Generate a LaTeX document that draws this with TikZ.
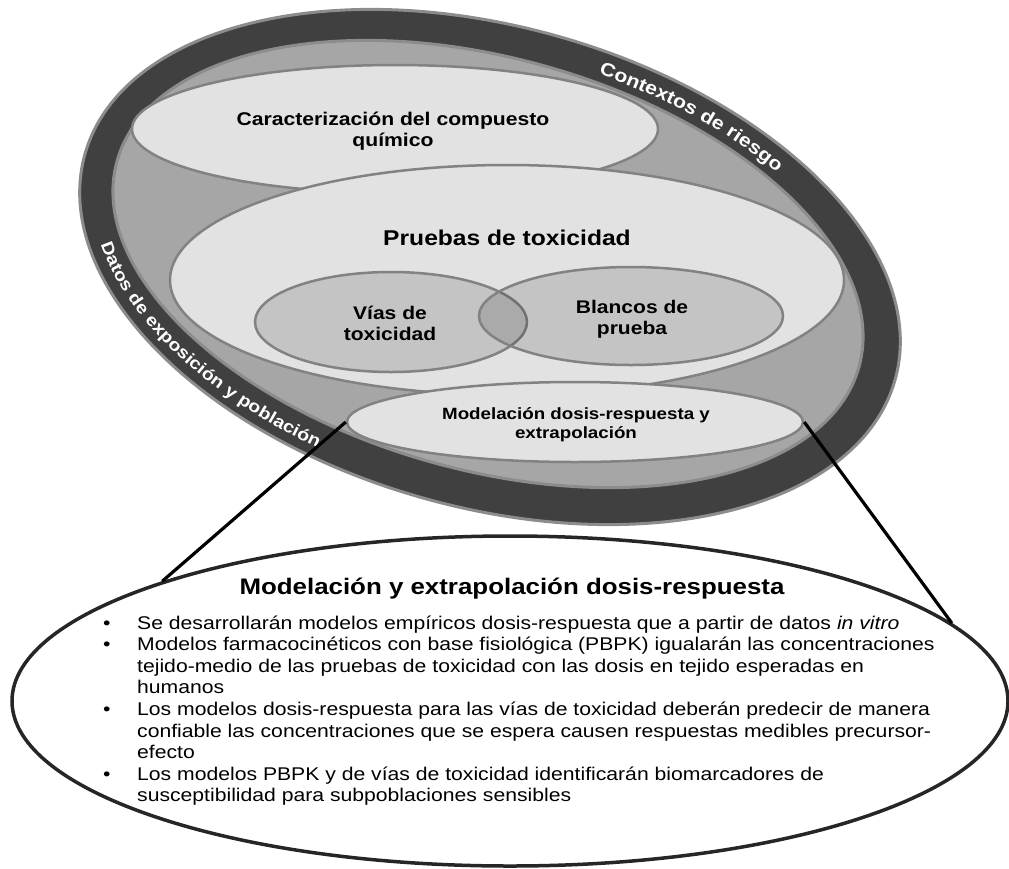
\documentclass[tikz,border=0pt]{standalone}
\usepackage{fontspec}
\setmainfont{Liberation Sans}[FakeStretch=1.15]
\usetikzlibrary{shapes.geometric,decorations.text,calc}
\definecolor{ringdark}{HTML}{404040}
\definecolor{ringedge}{HTML}{8C8C8C}
\definecolor{band}{HTML}{A6A6A6}
\definecolor{lightfill}{HTML}{E2E2E2}
\definecolor{edgegray}{HTML}{828282}
\begin{document}
\begin{tikzpicture}[x=1pt,y=-1pt,
  bubble/.style={ellipse, draw=edgegray, line width=2.5pt, fill=lightfill, inner sep=0pt},
  subbubble/.style={ellipse, draw=edgegray, line width=2.5pt, fill=black, fill opacity=0.13, text opacity=1, draw opacity=1, inner sep=0pt},
  lbl/.style={font=\bfseries\fontsize{18.4}{21.5}\selectfont, align=center, inner sep=0pt},
  ringtext/.style={decorate, decoration={text along path, text align=center, text color=white, text={#1}}},
  connector/.style={line width=3.2pt, black}]
\useasboundingbox (0,0) rectangle (1009,868);

% outer ring
\node[ellipse, draw=ringedge, line width=3pt, fill=ringdark, minimum width=841pt, minimum height=481pt, rotate=-15.5, inner sep=0pt] (outer) at (490,267) {};
\node[ellipse, draw=ringedge, line width=3pt, fill=band, minimum width=770pt, minimum height=412pt, rotate=-15.5, inner sep=0pt] (inner) at (488,264) {};

% inner bubbles
\node[bubble, minimum width=526pt, minimum height=128pt] (carac) at (395,129) {};
\node[lbl] (caractext) at (393,131) {Caracterización del compuesto\\químico};
\node[bubble, minimum width=674pt, minimum height=230pt] (pruebas) at (507,280) {};
\node[lbl, font=\bfseries\fontsize{21.4}{24}\selectfont] (pruebastext) at (507,238) {Pruebas de toxicidad};
\node[subbubble, minimum width=272pt, minimum height=100pt] (vias) at (391,322) {};
\node[subbubble, minimum width=304pt, minimum height=98pt] (blancos) at (631,316) {};
\node[lbl, font=\bfseries\fontsize{18.3}{21}\selectfont] (viastext) at (390,323) {Vías de\\toxicidad};
\node[lbl, font=\bfseries\fontsize{18.3}{21}\selectfont] (blancostext) at (632,319) {Blancos de\\prueba};
\node[bubble, minimum width=456pt, minimum height=80pt] (model) at (575,422) {};
\node[lbl, font=\bfseries\fontsize{16.3}{19}\selectfont] (modeltext) at (576,425) {Modelación dosis-respuesta y\\extrapolación};

% ring texts
\path[rotate around={-15.5:(490,267)}, ringtext={|\bfseries\fontsize{18.5}{18.5}\selectfont|Contextos de riesgo}]
  ($(490,267)+(261:397 and 217)$) arc[start angle=261, end angle=331, x radius=397, y radius=217];
\path[rotate around={-15.5:(490,267)}, ringtext={|\bfseries\fontsize{17}{17}\selectfont|Datos de exposición y población}]
  ($(490,267)+(181.5:408 and 230)$) arc[start angle=181.5, end angle=93.5, x radius=408, y radius=230];

% callout
\node[ellipse, draw=black!85, line width=3.5pt, minimum width=996pt, minimum height=330pt, inner sep=0pt] (callout) at (510,701) {};
\draw[connector] (model.west) -- (callout.161);
\draw[connector] (model.east) -- (callout.10);

\node[anchor=base, inner sep=0pt, font=\bfseries\fontsize{22.5}{26}\selectfont] (ctitle) at (512,594) {Modelación y extrapolación dosis-respuesta};
\node[anchor=base west, inner sep=0pt, font=\fontsize{18.4}{21.6}\selectfont] (cbody) at (103,629) {%
\begin{tabular}[t]{@{}p{34pt}@{}l@{}}
\textbullet & Se desarrollarán modelos empíricos dosis-respuesta que a partir de datos \textit{in vitro}\\
\textbullet & Modelos farmacocinéticos con base fisiológica (PBPK) igualarán las concentraciones\\
 & tejido-medio de las pruebas de toxicidad con las dosis en tejido esperadas en\\
 & humanos\\
\textbullet & Los modelos dosis-respuesta para las vías de toxicidad deberán predecir de manera\\
 & confiable las concentraciones que se espera causen respuestas medibles precursor-\\
 & efecto\\
\textbullet & Los modelos PBPK y de vías de toxicidad identificarán biomarcadores de\\
 & susceptibilidad para subpoblaciones sensibles
\end{tabular}};
\end{tikzpicture}
\end{document}
